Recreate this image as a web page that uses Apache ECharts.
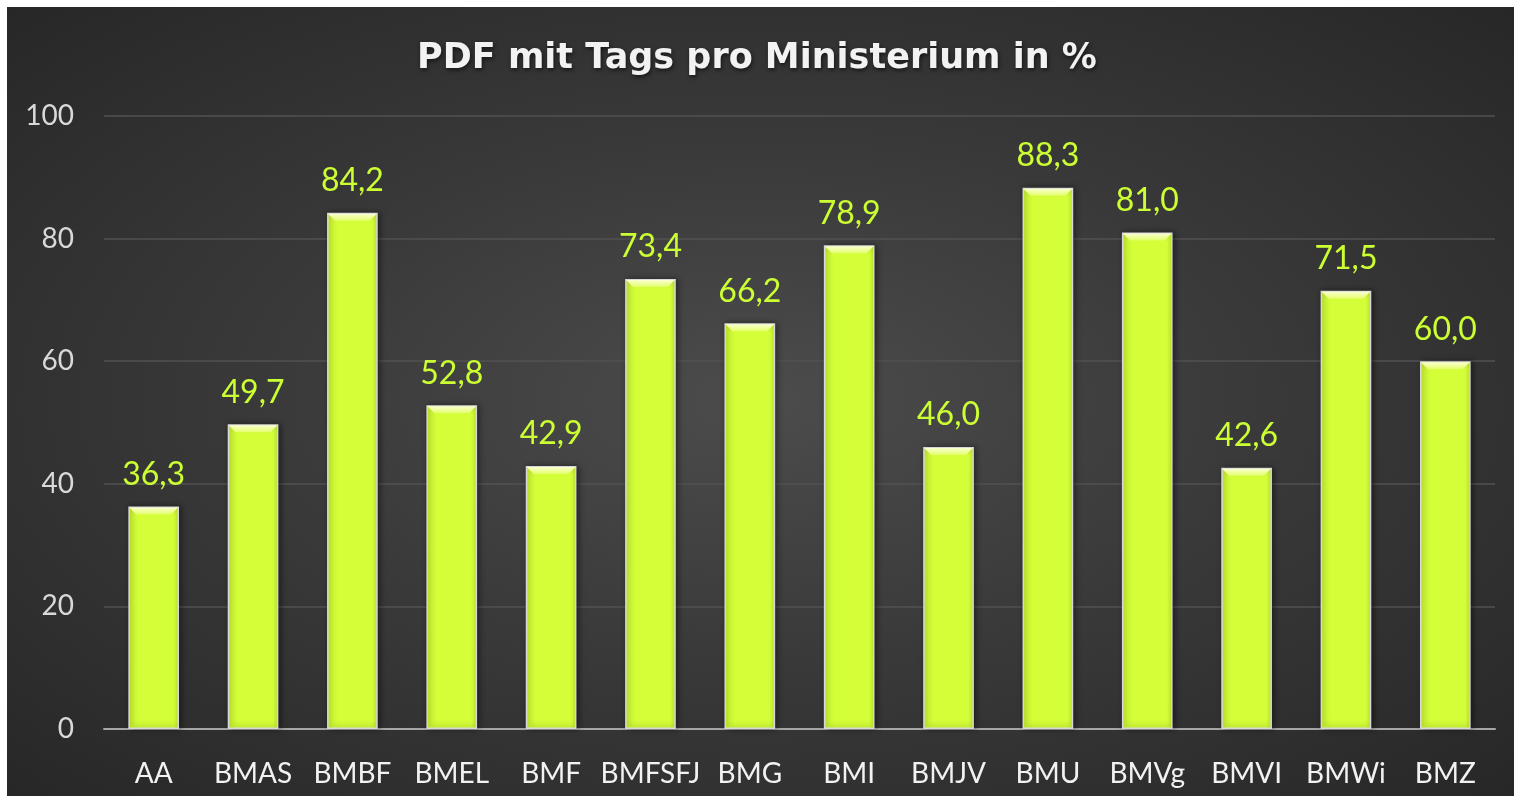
<!DOCTYPE html>
<html>
<head>
<meta charset="utf-8">
<script src="https://cdn.jsdelivr.net/npm/echarts@6/dist/echarts.min.js"></script>
<style>
  html, body { margin: 0; padding: 0; background: #fff; }
  #bg {
    position: absolute; left: 7px; top: 7px; width: 1507px; height: 789px;
    background: radial-gradient(ellipse at 50% 50%, #4c4c4c 0%, #3a3a3a 45%, #272727 100%);
  }
  #chart { position: absolute; left: 0; top: 0; width: 1514px; height: 802px; }
</style>
</head>
<body>
<div id="bg"></div>
<div id="chart"></div>
<script>
// Ministerien und Anteil PDF mit Tags (%)
const ministerien = ['AA', 'BMAS', 'BMBF', 'BMEL', 'BMF', 'BMFSFJ', 'BMG', 'BMI', 'BMJV', 'BMU', 'BMVg', 'BMVI', 'BMWi', 'BMZ']
const anteil = [36.3, 49.7, 84.2, 52.8, 42.9, 73.4, 66.2, 78.9, 46.0, 88.3, 81.0, 42.6, 71.5, 60.0]

const BAR_RATIO = 0.51

// Abgeschrägte Oberkante der Balken (Bevel-Effekt)
const renderBevel = (params, api) => {
  const top = api.coord([api.value(0), api.value(1)])
  const w = api.size([1, 0])[0] * BAR_RATIO
  const x0 = top[0] - w / 2 + 1
  const x1 = top[0] + w / 2 - 1
  const y0 = top[1] + 1
  const d = 7
  return {
    type: 'group',
    children: [{
      type: 'polygon',
      shape: { points: [[x0, y0], [x1, y0], [x1 - d, y0 + d], [x0 + d, y0 + d]] },
      style: {
        fill: new echarts.graphic.LinearGradient(0, 0, 0, 1, [
          { offset: 0, color: '#fbffd0' },
          { offset: 1, color: '#e4ff6a' }
        ])
      }
    }]
  }
}

const chart = echarts.init(document.getElementById('chart'))
const option = {
  backgroundColor: 'transparent',
  title: {
    text: 'PDF mit Tags pro Ministerium in %',
    left: 'center',
    top: 36,
    textStyle: {
      fontFamily: 'DejaVu Sans',
      fontSize: 35,
      fontWeight: 'bold',
      color: '#f2f2f2',
      textShadowColor: 'rgba(0,0,0,0.6)',
      textShadowBlur: 4,
      textShadowOffsetX: 1,
      textShadowOffsetY: 2
    }
  },
  grid: { left: 104, right: 19, top: 116, bottom: 73 },
  xAxis: {
    type: 'category',
    data: ministerien,
    axisTick: { show: false },
    axisLine: { lineStyle: { color: '#a6a6a6', width: 2 } },
    axisLabel: { color: '#f2f2f2', fontFamily: 'Lato', fontSize: 28, margin: 31, interval: 0 }
  },
  yAxis: {
    type: 'value',
    min: 0,
    max: 100,
    interval: 20,
    axisLine: { show: false },
    axisTick: { show: false },
    splitLine: { lineStyle: { color: '#525252', width: 1.5 } },
    axisLabel: { color: '#d9d9d9', fontFamily: 'Lato', fontSize: 28, margin: 30 }
  },
  series: [{
    type: 'bar',
    data: anteil,
    barWidth: (BAR_RATIO * 100) + '%',
    z: 2,
    itemStyle: {
      color: new echarts.graphic.LinearGradient(0, 0, 1, 0, [
        { offset: 0, color: '#c4ec30' },
        { offset: 0.1, color: '#d4ff38' },
        { offset: 0.9, color: '#d4ff38' },
        { offset: 1, color: '#c4ec30' }
      ]),
      borderColor: '#d8d8d8',
      borderWidth: 1.5,
      shadowColor: 'rgba(0,0,0,0.45)',
      shadowBlur: 6,
      shadowOffsetX: 2
    },
    label: {
      show: true,
      position: 'top',
      distance: 16,
      color: '#ccff33',
      fontFamily: 'Lato',
      fontSize: 32,
      formatter: p => p.value.toFixed(1).replace('.', ',')
    }
  }, {
    type: 'custom',
    data: anteil.map((v, i) => [i, v]),
    z: 3,
    silent: true,
    renderItem: renderBevel
  }]
}
chart.setOption(option)
</script>
</body>
</html>
